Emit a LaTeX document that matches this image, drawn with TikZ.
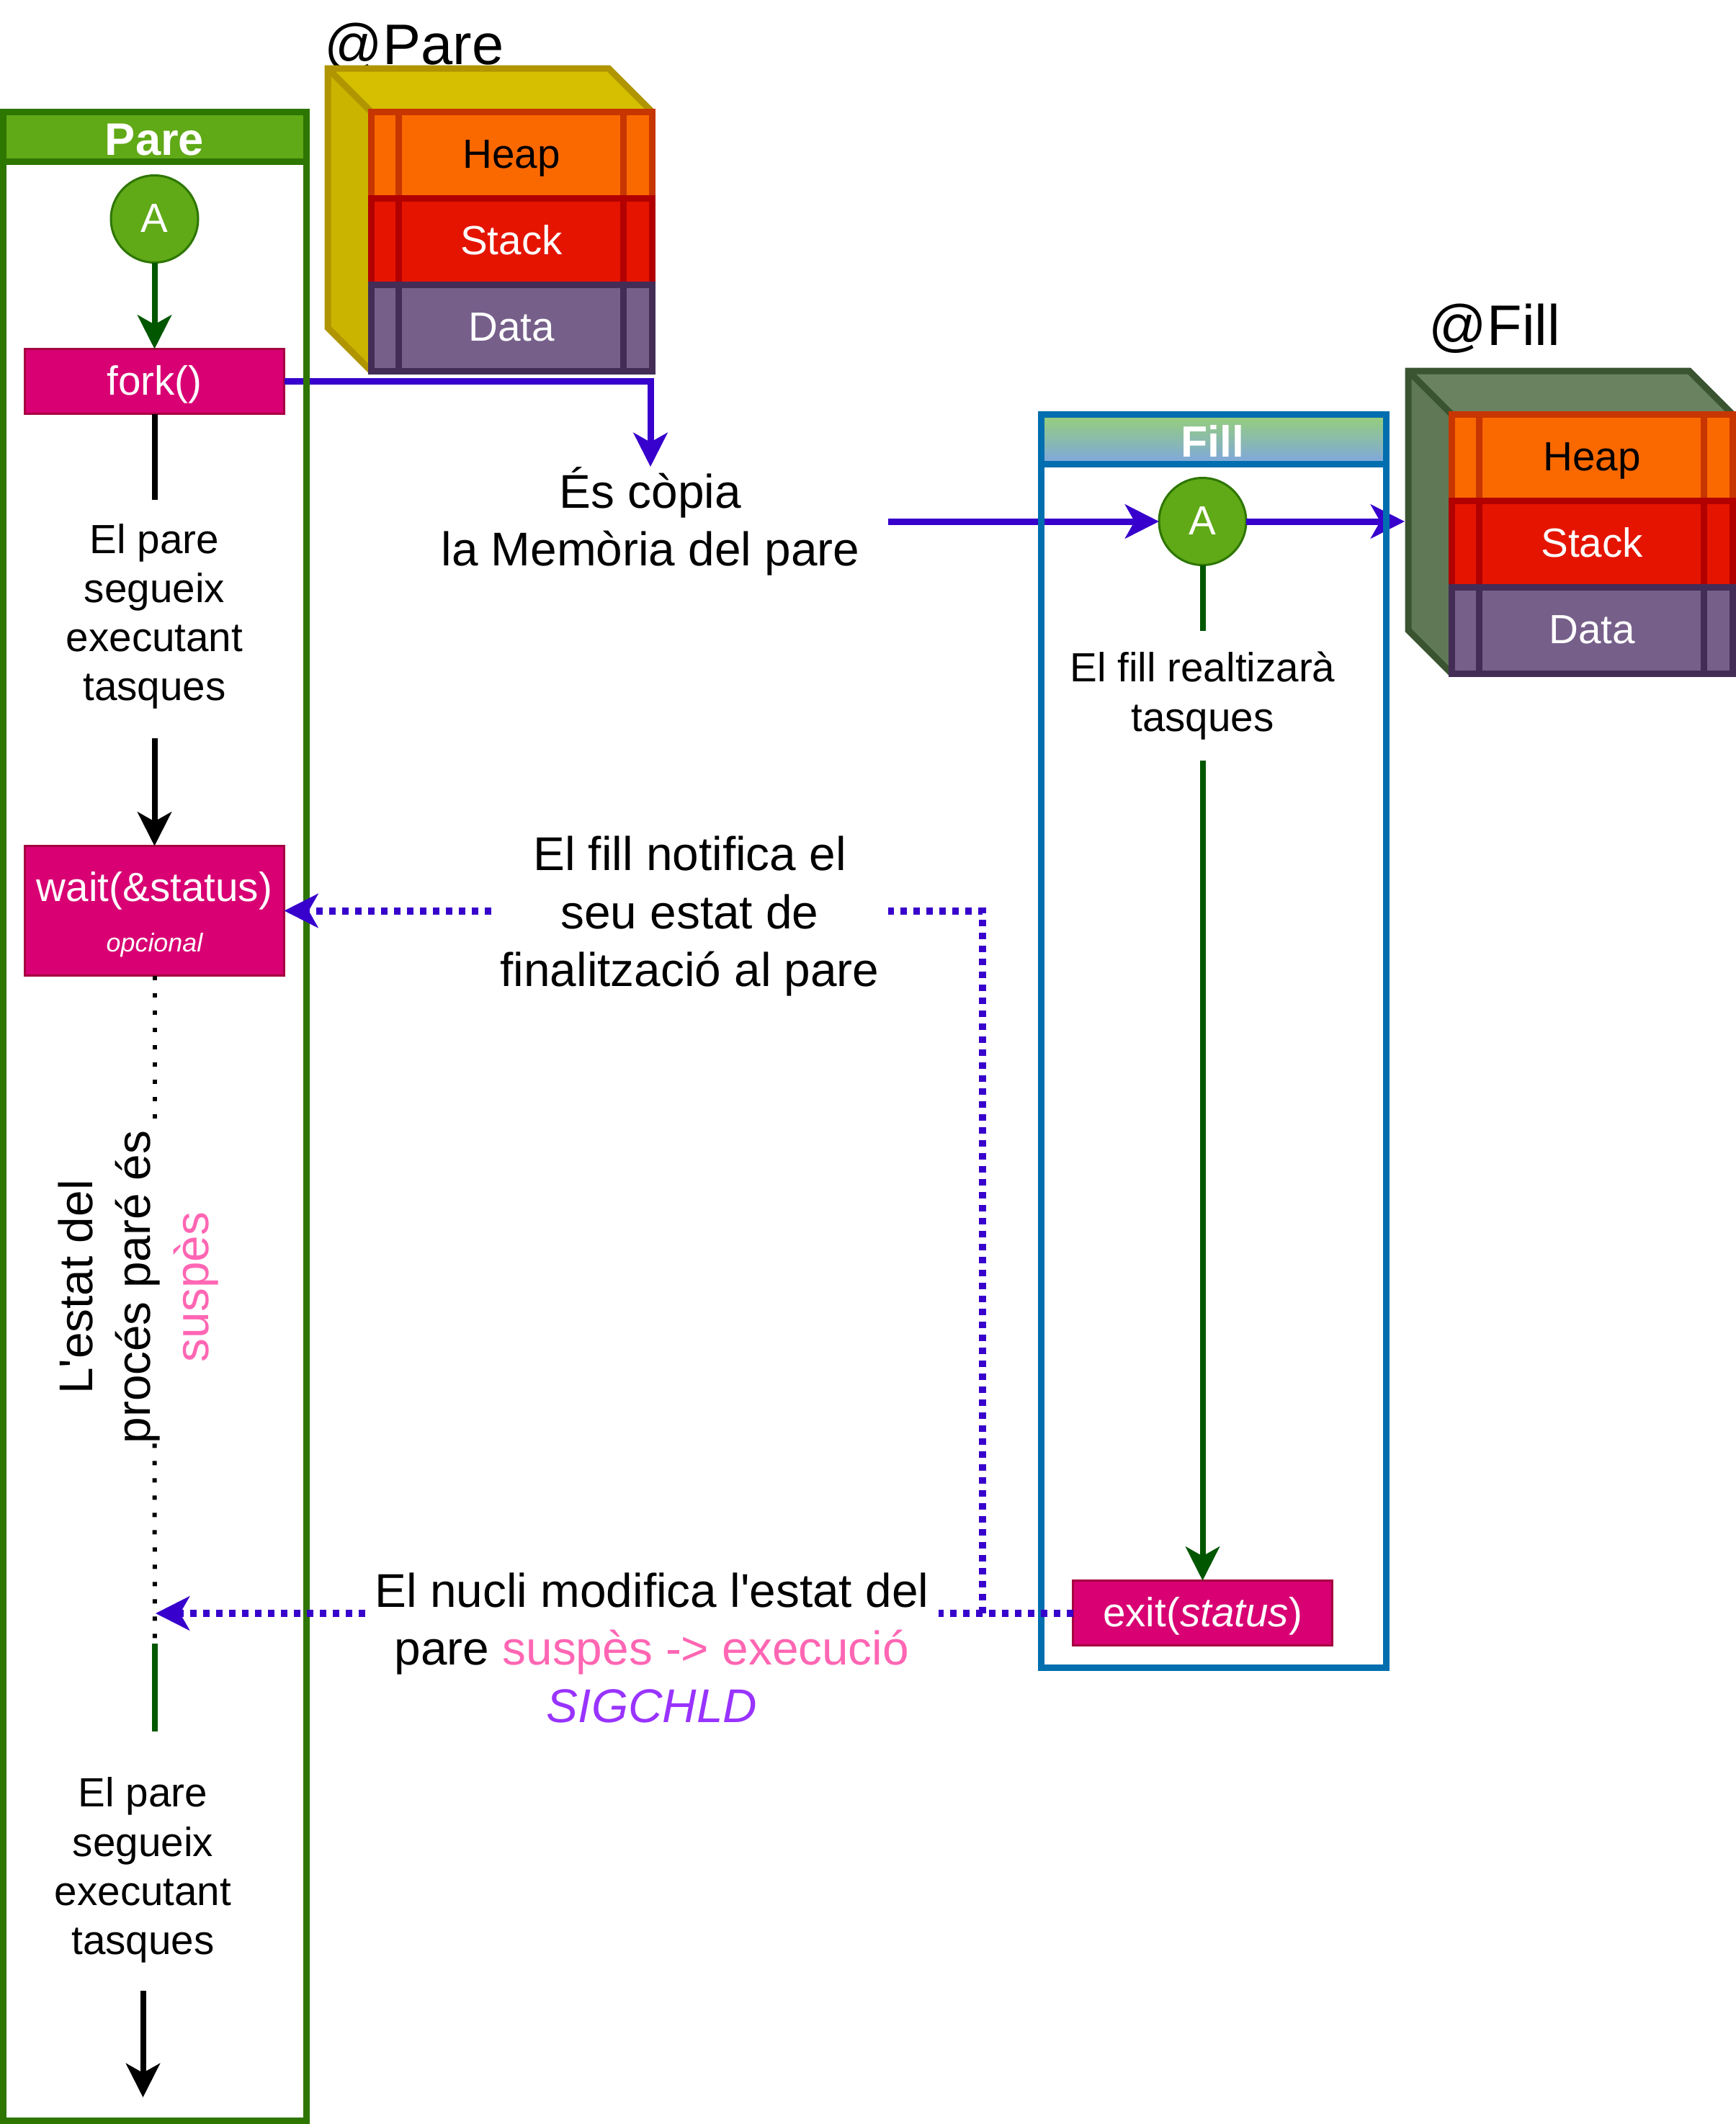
\documentclass[tikz,border=0pt]{standalone}
\usepackage{fontspec}
\setmainfont{Liberation Sans}
\usetikzlibrary{positioning, arrows.meta}

\definecolor{verdA}{HTML}{60A917}
\definecolor{verdB}{HTML}{2D7600}
\definecolor{verdFosc}{HTML}{005700}
\definecolor{blauB}{HTML}{006EAF}
\definecolor{indi}{HTML}{3700CC}
\definecolor{magA}{HTML}{D80073}
\definecolor{magB}{HTML}{A50040}
\definecolor{rosa}{HTML}{FF66B3}
\definecolor{lila}{HTML}{9933FF}
\definecolor{taronjaA}{HTML}{FA6800}
\definecolor{taronjaB}{HTML}{C73500}
\definecolor{vermellA}{HTML}{E51400}
\definecolor{vermellB}{HTML}{B20000}
\definecolor{moratA}{HTML}{76608A}
\definecolor{moratB}{HTML}{432D57}
\definecolor{grocSup}{HTML}{D6BF00}
\definecolor{grocLat}{HTML}{CAB400}
\definecolor{grocB}{HTML}{B09500}
\definecolor{oliSup}{HTML}{6A8260}
\definecolor{oliLat}{HTML}{607856}
\definecolor{oliB}{HTML}{3A5330}
\definecolor{capA}{HTML}{97D077}
\definecolor{capB}{HTML}{7EA6E0}

\tikzset{
  puntaF/.style = {-{Stealth[length=0.47cm, width=0.47cm, inset=0.13cm]}},
  textPetit/.style = {font=\fontsize{16.1}{19.4}\selectfont, align=center, inner sep=0, outer sep=0},
  textGran/.style = {font=\fontsize{18.7}{22.8}\selectfont, align=center, inner sep=0, outer sep=0},
  titol/.style = {font=\fontsize{22.6}{26}\selectfont, inner sep=0},
  ratlla/.style = {text height=0.50cm, text depth=0.13cm},
  fila/.style = {textPetit, ratlla, draw=#1, line width=0.09cm, minimum width=3.9cm, minimum height=1.2cm,
    path picture={\draw[#1, line width=0.09cm] (path picture bounding box.north west) ++(0.38,0) -- ++(0,-1.2) ++(3.12,0) -- ++(0,1.2);}},
  crida/.style = {textPetit, draw=magB, fill=magA, text=white, line width=0.03cm, minimum width=3.60cm, minimum height=0.90cm},
  inici/.style = {textPetit, ratlla, circle, draw=verdB, fill=verdA, text=white, line width=0.03cm, minimum size=1.21cm},
  carril/.style = {draw=#1, line width=0.09cm, inner sep=0, outer sep=0},
  capcal/.style = {inner sep=0, outer sep=0, line width=0.09cm, minimum height=0.69cm},
  nomCarril/.style = {font=\bfseries\fontsize{#1}{20}\selectfont, text=white, inner sep=0, text height=0.44cm, text depth=0cm},
  cara/.style = {line width=0.09cm},
  fletxaIndi/.style = {draw=indi, line width=0.09cm},
  puntsIndi/.style = {draw=indi, line width=0.1cm, dash pattern=on 0.09cm off 0.09cm},
}

\begin{document}
\begin{tikzpicture}
  \useasboundingbox (0,0) rectangle (24.09,-29.49);

  % memoria del pare
  \node[titol] (titolPare) at (5.75,-0.66) {@Pare};
  \fill[grocSup] (4.55,-0.95) -- (8.45,-0.95) -- (9.05,-1.55) -- (5.15,-1.55) -- cycle;
  \fill[grocLat] (4.55,-0.95) -- (5.15,-1.55) -- (5.15,-5.15) -- (4.55,-4.55) -- cycle;
  \draw[cara, grocB] (4.55,-0.95) -- (8.45,-0.95) -- (9.05,-1.55) -- (9.05,-5.15) -- (5.15,-5.15) -- (4.55,-4.55) -- cycle
    (4.55,-0.95) -- (5.15,-1.55);
  \node[fila=taronjaB, fill=taronjaA, text=black] (heapPare) at (7.10,-2.15) {Heap};
  \node[fila=vermellB, fill=vermellA, text=white] (stackPare) [below = 0cm of heapPare] {Stack};
  \node[fila=moratB, fill=moratA, text=white] (dataPare) [below = 0cm of stackPare] {Data};

  % memoria del fill
  \node[titol] (titolFill) at (20.75,-4.56) {@Fill};
  \fill[oliSup] (19.55,-5.15) -- (23.45,-5.15) -- (24.05,-5.75) -- (20.15,-5.75) -- cycle;
  \fill[oliLat] (19.55,-5.15) -- (20.15,-5.75) -- (20.15,-9.35) -- (19.55,-8.75) -- cycle;
  \draw[cara, oliB] (19.55,-5.15) -- (23.45,-5.15) -- (24.05,-5.75) -- (24.05,-9.35) -- (20.15,-9.35) -- (19.55,-8.75) -- cycle
    (19.55,-5.15) -- (20.15,-5.75);
  \node[fila=taronjaB, fill=taronjaA, text=black] (heapFill) at (22.10,-6.35) {Heap};
  \node[fila=vermellB, fill=vermellA, text=white] (stackFill) [below = 0cm of heapFill] {Stack};
  \node[fila=moratB, fill=moratA, text=white] (dataFill) [below = 0cm of stackFill] {Data};

  \coordinate (costatFill) at (19.50,-7.24);

  \node[crida, ratlla] (forkPare) at (2.145,-5.295) {fork()};
  \node[inici] (iniciPare) at (2.145,-3.04) {A};
  \node[inici] (iniciFill) at (16.695,-7.24) {A};
  \node[textGran, minimum width=6.60cm, minimum height=1.52cm] (copia) at (9.03,-7.24) {És còpia\\la Memòria del pare};

  \draw[fletxaIndi, puntaF] (forkPare.east) -| (copia.north);
  \draw[fletxaIndi, puntaF] (copia.east) -- (iniciFill.west);
  \draw[fletxaIndi, puntaF] (iniciFill.east) -- (costatFill);

  % carrils
  \node[carril=verdB, minimum width=4.20cm, minimum height=27.89cm] (carrilPare) at (2.15,-15.495) {};
  \node[capcal, draw=verdB, fill=verdA, minimum width=4.20cm] (capPare) at (2.15,-1.895) {};
  \node[nomCarril=18] (nomPare) at (2.145,-1.93) {Pare};
  \node[carril=blauB, minimum width=4.79cm, minimum height=17.40cm] (carrilFill) at (16.845,-14.45) {};
  \node[capcal, draw=blauB, top color=capA, bottom color=capB, minimum width=4.79cm] (capFill) at (16.845,-6.095) {};
  \node[nomCarril=17.3] (nomFill) at (16.83,-6.12) {Fill};

  \node[textPetit, minimum height=3.24cm] (seguirPare) at (2.145,-8.56) {El pare\\segueix\\executant\\tasques};
  \node[crida, minimum height=1.80cm] (waitPare) at (2.145,-12.645) {\rule{0pt}{0.51cm}wait(\&status)\\[0.02cm]{\itshape\fontsize{10.2}{12}\selectfont opcional}};
  \node[textGran, rotate=90] (estatPare) at (1.92,-17.87) {L\textquotesingle estat del\\procés paré és\\\textcolor{rosa}{suspès}};
  \coordinate (senyalPare) at (2.16,-22.40);
  \coordinate (represaPare) at (2.15,-22.82);
  \node[textPetit, minimum height=3.85cm] (tornaPare) at (1.985,-25.965) {El pare\\segueix\\executant\\tasques};
  \coordinate (fiPare) at (1.985,-29.12);

  \node[textPetit, minimum height=1.80cm] (tasquesFill) at (16.695,-9.66) {El fill realtizarà\\tasques};
  \node[crida, ratlla] (exitFill) at (16.695,-22.395) {exit(\textit{status})};

  \node[textGran, minimum width=5.51cm] (notifica) at (9.575,-12.72) {El fill notifica el\\seu estat de\\finalització al pare};
  \node[textGran, minimum width=7.96cm] (nucli) at (9.05,-22.88) {El nucli modifica l\textquotesingle estat del\\pare \textcolor{rosa}{suspès -> execució}\\\textcolor{lila}{\textit{SIGCHLD}}};

  \draw[verdFosc, line width=0.08cm, puntaF] (iniciPare.south) -- (forkPare.north);
  \draw[black, line width=0.08cm] (forkPare.south) -- (seguirPare.north);
  \draw[black, line width=0.08cm, puntaF, shorten <=0.07cm] (seguirPare.south) -- (waitPare.north);
  \draw[verdFosc, line width=0.08cm] (iniciFill.south) -- (tasquesFill.north);
  \draw[verdFosc, line width=0.08cm, puntaF] (tasquesFill.south) -- (exitFill.north);
  \draw[black, line width=0.06cm, dash pattern=on 0.06cm off 0.18cm] (waitPare.south) -- (waitPare.south |- estatPare.east);
  \draw[black, line width=0.06cm, dash pattern=on 0.06cm off 0.18cm] (waitPare.south |- estatPare.west) -- (represaPare);
  \draw[verdFosc, line width=0.08cm] (represaPare) -- (represaPare |- tornaPare.north);
  \draw[black, line width=0.08cm, puntaF, shorten <=-0.25cm] (tornaPare.south) -- (fiPare);

  \draw[puntsIndi] (exitFill.west) -- ++(-1.26,0) |- (notifica.east |- waitPare.east);
  \draw[puntsIndi, puntaF] (notifica.west |- waitPare.east) -- (waitPare.east);
  \draw[puntsIndi] (exitFill.west) -- (exitFill.west -| nucli.east);
  \draw[puntsIndi, puntaF] (nucli.west |- senyalPare) -- (senyalPare);
\end{tikzpicture}
\end{document}
